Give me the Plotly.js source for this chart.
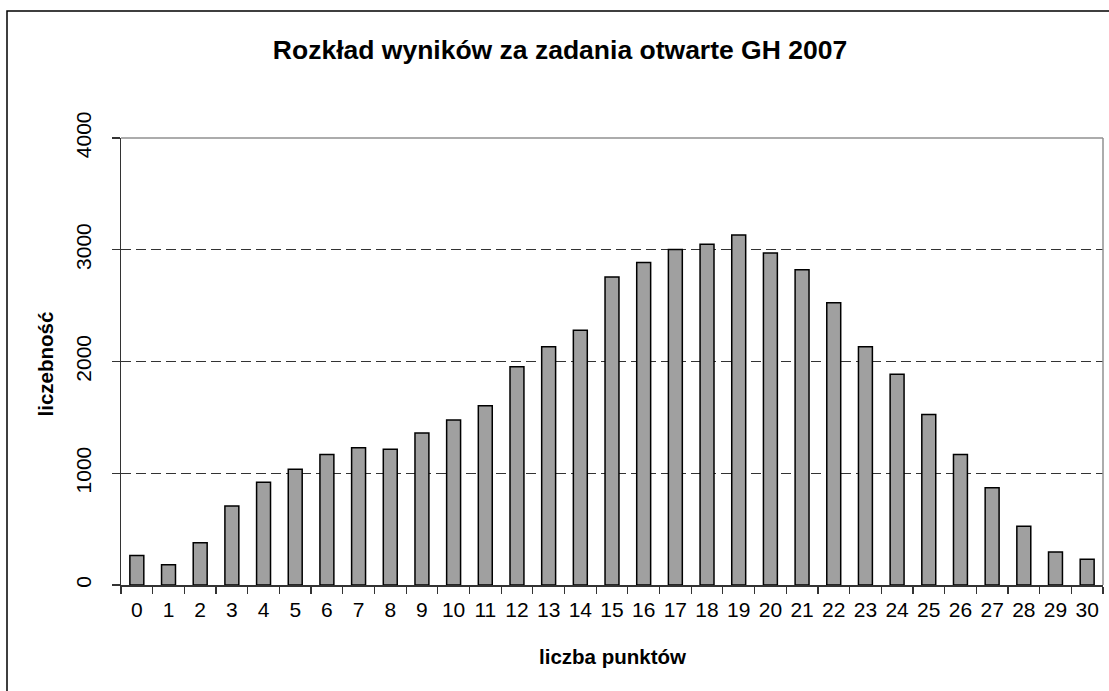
<!DOCTYPE html>
<html>
<head>
<meta charset="utf-8">
<script src="https://cdn.plot.ly/plotly-3.0.1.min.js"></script>
<style>
html,body{margin:0;padding:0;background:#fff;}
#chart{width:1109px;height:691px;}
</style>
</head>
<body>
<div id="chart"></div>
<script>
const categories = ["0","1","2","3","4","5","6","7","8","9","10","11","12","13","14","15","16","17","18","19","20","21","22","23","24","25","26","27","28","29","30"];
const counts = [265,182,379,707,919,1036,1167,1229,1215,1361,1477,1605,1952,2131,2280,2757,2886,3002,3050,3133,2970,2820,2525,2131,1886,1525,1167,871,525,295,230];
const yTicks = [0,1000,2000,3000,4000];
const titleText = "Rozkład wyników za zadania otwarte GH 2007";
const xTitle = "liczba punktów";
const yTitle = "liczebność";

const W = 1109, H = 691;
const L = 121, R = 6, T = 138, B = 106;
const pw = W - L - R, ph = H - T - B;
const px = x => (x - L) / pw;
const py = y => (H - B - y) / ph;

const font = "Liberation Sans, Arial, sans-serif";

const trace = {
  type: "bar",
  x: categories,
  y: counts,
  marker: {color: "#a0a0a0", line: {color: "#000", width: 1.5}},
  hoverinfo: "x+y"
};

const layout = {
  width: W, height: H,
  margin: {l: L, r: R, t: T, b: B, pad: 0},
  paper_bgcolor: "#fff",
  plot_bgcolor: "#fff",
  showlegend: false,
  bargap: 0.56,
  font: {family: font, color: "#000", size: 21},
  title: {
    text: "<b>" + titleText + "</b>",
    font: {family: font, size: 26.5, color: "#000"},
    xref: "container", x: 560 / W, xanchor: "center",
    yref: "container", y: 1 - 50 / H, yanchor: "middle"
  },
  xaxis: {
    type: "category",
    tickson: "boundaries",
    tickangle: 0,
    ticks: "outside", ticklen: 7, tickwidth: 1.2, tickcolor: "#333",
    showline: true, linecolor: "#333", linewidth: 1.5,
    showgrid: false, zeroline: false,
    tickfont: {family: font, size: 21, color: "#000"},
    ticklabelstandoff: 5,
    fixedrange: true
  },
  yaxis: {
    range: [0, 4000],
    tickvals: yTicks,
    ticktext: yTicks.map(String),
    tickangle: -90,
    ticks: "outside", ticklen: 8, tickwidth: 1.2, tickcolor: "#333",
    showline: true, linecolor: "#333", linewidth: 1.5,
    showgrid: true, gridcolor: "#333", gridwidth: 1, griddash: "10px,5px",
    zeroline: false,
    tickfont: {family: font, size: 21, color: "#000"},
    ticklabelstandoff: 12,
    fixedrange: true
  },
  shapes: [
    {type: "line", xref: "paper", yref: "paper", x0: 0, x1: 1, y0: 1, y1: 1, line: {color: "#909090", width: 1.5}},
    {type: "line", xref: "paper", yref: "paper", x0: 1, x1: 1, y0: 0, y1: 1, line: {color: "#909090", width: 1.5}},
    {type: "rect", xref: "paper", yref: "paper", x0: px(7), x1: px(1120), y0: py(700), y1: py(11), line: {color: "#000", width: 1.5}, fillcolor: "rgba(0,0,0,0)", layer: "above"}
  ],
  annotations: [
    {text: "<b>" + xTitle + "</b>", xref: "paper", yref: "paper", x: 0.5, y: py(656), xanchor: "center", yanchor: "middle", showarrow: false, font: {family: font, size: 20.5, color: "#000"}},
    {text: "<b>" + yTitle + "</b>", xref: "paper", yref: "paper", x: px(45), y: py(364.5), xanchor: "center", yanchor: "middle", textangle: -90, showarrow: false, font: {family: font, size: 20.5, color: "#000"}}
  ]
};

Plotly.newPlot("chart", [trace], layout, {displayModeBar: false, staticPlot: true});
</script>
</body>
</html>
